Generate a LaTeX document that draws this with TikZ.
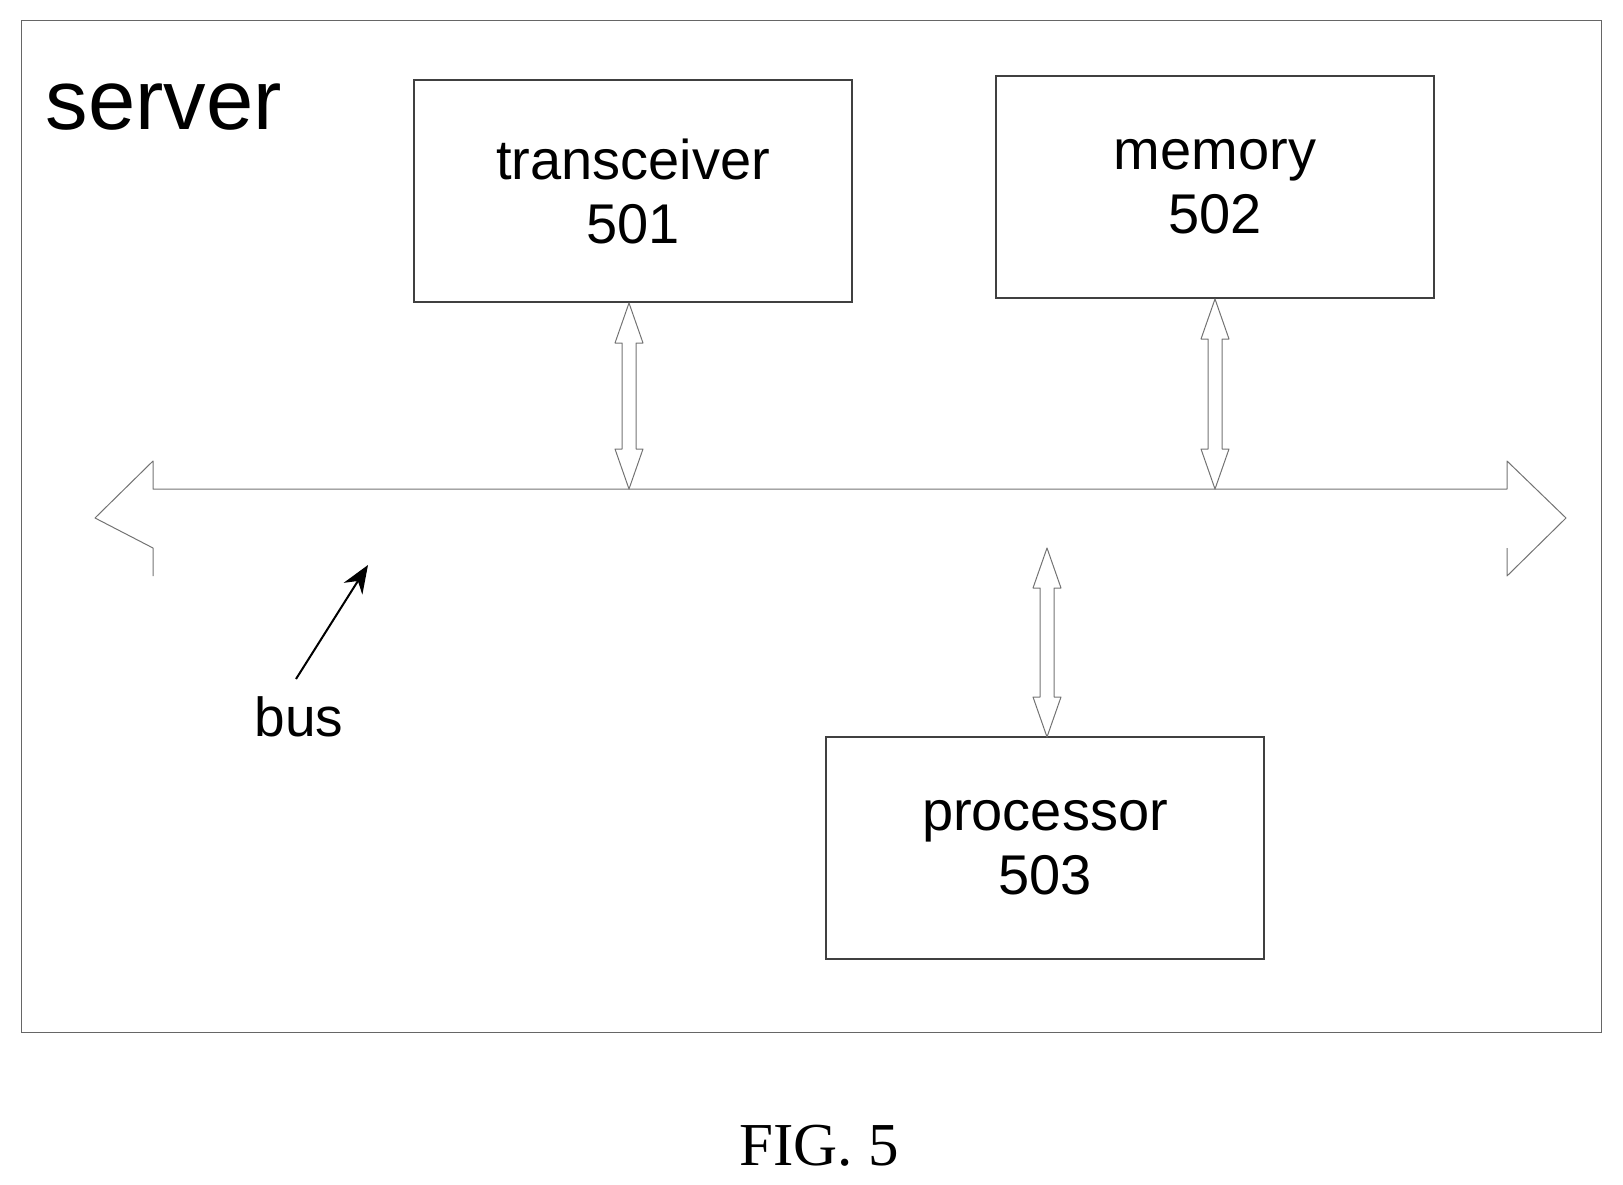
\documentclass[tikz,border=0pt]{standalone}
\usetikzlibrary{arrows.meta}
\usepackage{fontspec}
\setmainfont{Liberation Sans}
\newfontfamily\figfont{Liberation Serif}
\begin{document}
\begin{tikzpicture}[x=1pt,y=-1pt,
  box/.style={draw=black!75,line width=1.6pt,minimum width=438pt,minimum height=222pt,align=center,font=\fontsize{56}{64}\selectfont,inner sep=0pt},
  hol/.style={draw=black!55,line width=1pt,line join=round}]
\useasboundingbox (0,0) rectangle (1623,1185);
\draw[draw=black!60,line width=1pt] (21,21) rectangle (1601,1032);
\node[anchor=west,font=\fontsize{85}{90}\selectfont] (srv) at (42,107) {server};
\node[box] (tr) at (633,191) {transceiver\\501};
\node[box] (mem) at (1215,187) {memory\\502};
\node[box] (proc) at (1045,848) {processor\\503};
% bus
\draw[hol] (153,576) -- (153,548) -- (95,518) -- (153,461) -- (153,489) -- (1507,489) -- (1507,461) -- (1566,518) -- (1507,576) -- (1507,548);
% vertical double arrows: x, ytop, ybottom
\foreach \x/\a/\b in {629/303/489, 1215/299/489, 1047/548/737}{
  \draw[hol] (\x,\a) -- (\x+14,\a+40) -- (\x+7,\a+40) -- (\x+7,\b-40) -- (\x+14,\b-40) -- (\x,\b) -- (\x-14,\b-40) -- (\x-7,\b-40) -- (\x-7,\a+40) -- (\x-14,\a+40) -- cycle;
}
\node[font=\fontsize{55}{60}\selectfont] (bus) at (299,717) {bus};
\coordinate (bt) at (368,565);
\draw[line width=2pt,-{Stealth[length=28pt,width=22pt]}] (296,679) -- (bt);
\node[font=\figfont\fontsize{61}{66}\selectfont] (fig) at (819,1146) {FIG. 5};
\end{tikzpicture}
\end{document}
